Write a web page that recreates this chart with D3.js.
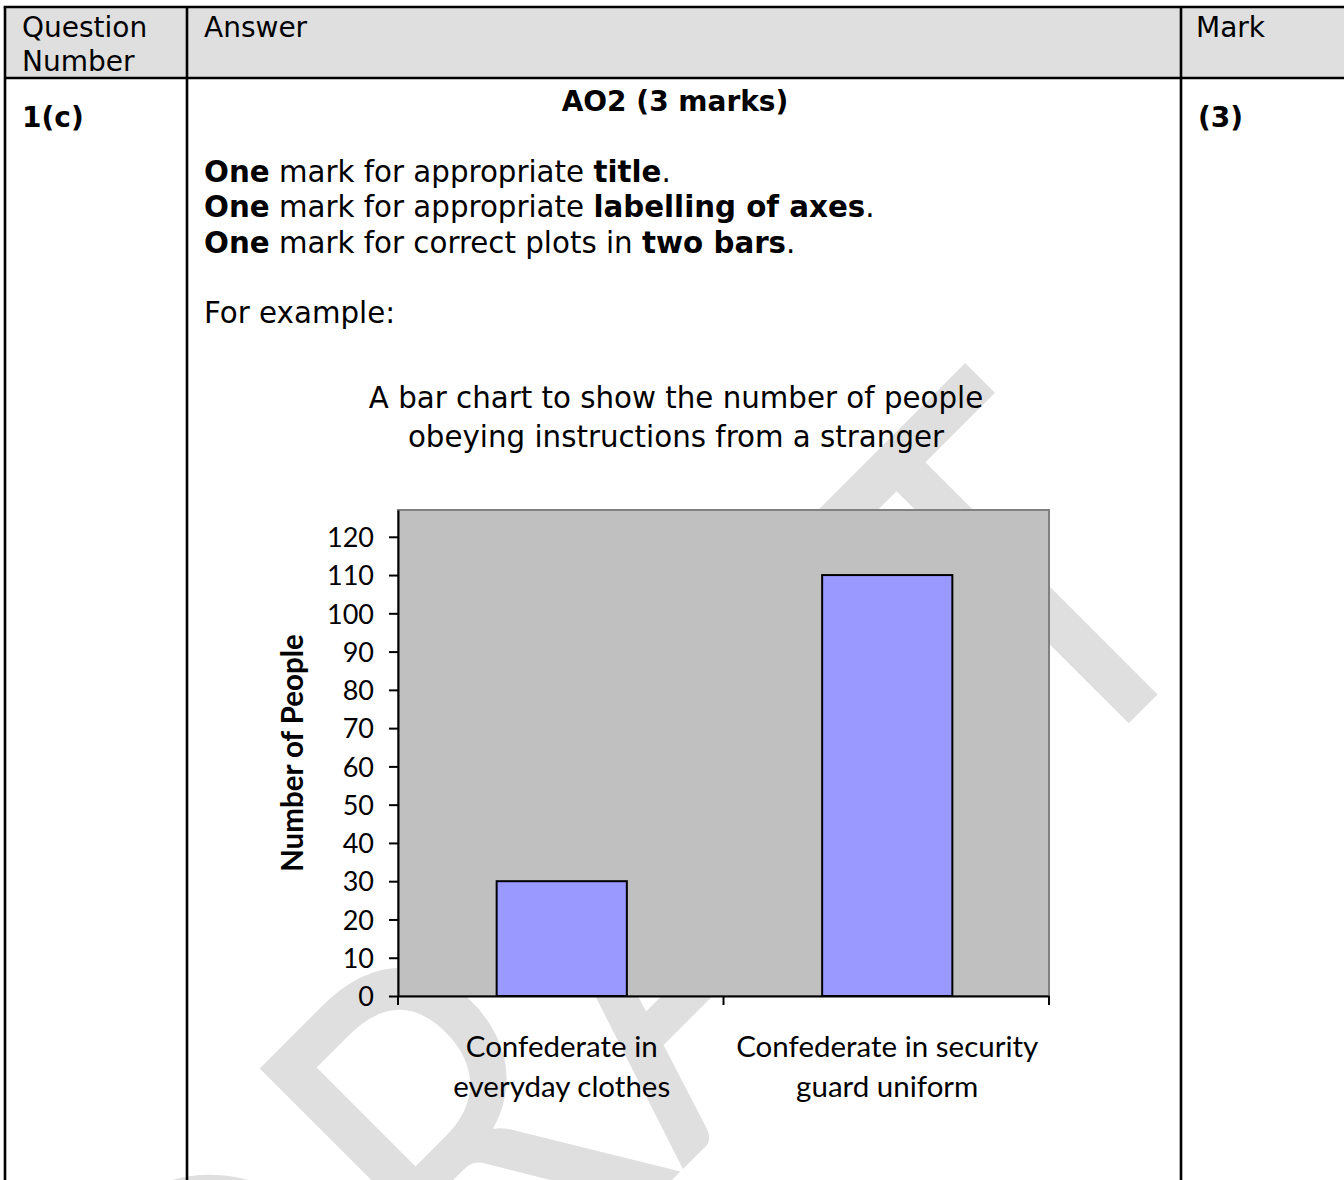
<!DOCTYPE html>
<html>
<head>
<meta charset="utf-8">
<script src="https://cdn.jsdelivr.net/npm/d3@7"></script>
<style>
  html, body { margin: 0; padding: 0; background: #ffffff; }
  svg { display: block; }
</style>
</head>
<body>
<script>
// ---------- data ----------
const categories = ["Confederate in everyday clothes", "Confederate in security guard uniform"];
const categoryLines = [["Confederate in", "everyday clothes"], ["Confederate in security", "guard uniform"]];
const values = [30, 110];
const yTicks = [0, 10, 20, 30, 40, 50, 60, 70, 80, 90, 100, 110, 120];
const yPlotMax = 127;
const chartTitle = ["A bar chart to show the number of people", "obeying instructions from a stranger"];
const yAxisTitle = "Number of People";
const headerCells = [["Question", "Number"], ["Answer"], ["Mark"]];
const questionNumber = "1(c)";
const markValue = "(3)";
const aoHeading = "AO2 (3 marks)";
const bodyLines = [
  [["One", true], [" mark for appropriate ", false], ["title", true], [".", false]],
  [["One", true], [" mark for appropriate ", false], ["labelling of axes", true], [".", false]],
  [["One", true], [" mark for correct plots in ", false], ["two bars", true], [".", false]]
];
const exampleLine = "For example:";
const watermarkText = "DRAFT";

// ---------- page ----------
const W = 1344, H = 1180;
const svg = d3.select("body").append("svg").attr("width", W).attr("height", H);
svg.append("rect").attr("width", W).attr("height", H).attr("fill", "#ffffff");

const docFont = "'DejaVu Sans', Verdana, sans-serif";
const chartFont = "Lato, Carlito, Calibri, sans-serif";

// watermark (behind everything) - T stem bottom centre anchored
const wm = svg.append("g");
const wt = wm.append("text")
  .attr("font-family", "Lato, Carlito, Calibri, sans-serif")
  .attr("font-size", 517)
  .attr("fill", "#dfdfdf")
  .text(watermarkText);
let pre = 0, tw = 0;
try {
  pre = wt.node().getSubStringLength(0, watermarkText.length - 1);
  tw = wt.node().getSubStringLength(watermarkText.length - 1, 1);
} catch (e) { pre = 1300; tw = 280; }
wm.attr("transform", `translate(1143,709) rotate(-45) scale(0.82,1) translate(${-(pre + tw / 2)},0)`);

// table header background
const tLeft = 5, tTop = 7, hdrBottom = 78, col1 = 187, col2 = 1181;
svg.append("rect").attr("x", tLeft).attr("y", tTop).attr("width", W - tLeft).attr("height", hdrBottom - tTop)
  .attr("fill", "#dfdfdf");

// header text
const hdrX = [22, 204, 1196];
headerCells.forEach((lines, i) => {
  lines.forEach((ln, j) => {
    svg.append("text").attr("x", hdrX[i]).attr("y", 36.5 + j * 34)
      .attr("font-family", docFont).attr("font-size", 28).attr("fill", "#000").text(ln);
  });
});

svg.append("text").attr("x", 22).attr("y", 127).attr("font-family", docFont).attr("font-size", 28)
  .attr("font-weight", "bold").text(questionNumber);
svg.append("text").attr("x", 1198).attr("y", 127).attr("font-family", docFont).attr("font-size", 28)
  .attr("font-weight", "bold").text(markValue);
svg.append("text").attr("x", 675).attr("y", 111).attr("text-anchor", "middle").attr("font-family", docFont)
  .attr("font-size", 28).attr("font-weight", "bold").text(aoHeading);

bodyLines.forEach((parts, i) => {
  const t = svg.append("text").attr("x", 204).attr("y", 181.5 + i * 35.5)
    .attr("font-family", docFont).attr("font-size", 29.3).attr("fill", "#000");
  parts.forEach(p => {
    t.append("tspan").attr("font-weight", p[1] ? "bold" : "normal").text(p[0]);
  });
});
svg.append("text").attr("x", 204).attr("y", 323).attr("font-family", docFont).attr("font-size", 29.3).text(exampleLine);

// chart title
chartTitle.forEach((ln, i) => {
  svg.append("text").attr("x", 676).attr("y", 408 + i * 39).attr("text-anchor", "middle")
    .attr("font-family", docFont).attr("font-size", 29.3).attr("fill", "#000").text(ln);
});

// ---------- chart ----------
const plot = { left: 398, right: 1049, top: 510, bottom: 996 };
const x = d3.scaleBand().domain(categories).range([plot.left, plot.right]).padding(0);
const y = d3.scaleLinear().domain([0, yPlotMax]).range([plot.bottom, plot.top]);

const g = svg.append("g");
g.append("rect").attr("x", plot.left).attr("y", y(yPlotMax)).attr("width", plot.right - plot.left)
  .attr("height", y(0) - y(yPlotMax)).attr("fill", "#c0c0c0").attr("stroke", "#808080").attr("stroke-width", 2);

const barW = x.bandwidth() * 0.4;
g.selectAll("rect.bar").data(values).enter().append("rect").attr("class", "bar")
  .attr("x", (d, i) => x(categories[i]) + (x.bandwidth() - barW) / 2 + 1)
  .attr("y", d => y(d))
  .attr("width", barW)
  .attr("height", d => y(0) - y(d))
  .attr("fill", "#9999ff").attr("stroke", "#000").attr("stroke-width", 2);

// y axis
const yAxis = g.append("g").attr("transform", `translate(${plot.left},0)`)
  .call(d3.axisLeft(y).tickValues(yTicks).tickSize(9).tickSizeOuter(0).tickPadding(15).tickFormat(d3.format("d")));
yAxis.select(".domain").attr("stroke", "#000").attr("stroke-width", 2);
yAxis.selectAll(".tick line").attr("stroke", "#000").attr("stroke-width", 2);
yAxis.selectAll(".tick text").attr("font-family", chartFont).attr("font-size", 27).attr("fill", "#000").attr("dy", "0.36em");

// x axis (line + ticks at category boundaries)
const xAxis = g.append("g").attr("transform", `translate(0,${plot.bottom})`)
  .call(d3.axisBottom(x).tickSize(0).tickSizeOuter(0).tickFormat(""));
xAxis.select(".domain").attr("stroke", "#000").attr("stroke-width", 2);
const boundaries = categories.map(c => x(c)).concat([x.range()[1]]);
xAxis.selectAll("line.bound").data(boundaries).enter().append("line").attr("class", "bound")
  .attr("x1", d => d).attr("x2", d => d).attr("y1", 0).attr("y2", 9)
  .attr("stroke", "#000").attr("stroke-width", 2);

// category labels
categoryLines.forEach((lines, i) => {
  lines.forEach((ln, j) => {
    g.append("text").attr("x", x(categories[i]) + x.bandwidth() / 2 + 1).attr("y", plot.bottom + 61 + j * 40)
      .attr("text-anchor", "middle").attr("font-family", chartFont).attr("font-size", 29.5).attr("fill", "#000").text(ln);
  });
});

// y axis title
g.append("text").attr("transform", `translate(303,${(plot.top + plot.bottom) / 2}) rotate(-90)`)
  .attr("text-anchor", "middle").attr("font-family", chartFont).attr("font-size", 29.5).attr("font-weight", "bold")
  .attr("fill", "#000").text(yAxisTitle);

// ---------- table borders (on top) ----------
const border = svg.append("g").attr("stroke", "#000").attr("stroke-width", 2.6);
border.append("line").attr("x1", tLeft - 1.3).attr("x2", W).attr("y1", tTop).attr("y2", tTop);
border.append("line").attr("x1", tLeft).attr("x2", W).attr("y1", hdrBottom).attr("y2", hdrBottom);
border.append("line").attr("x1", tLeft).attr("x2", tLeft).attr("y1", tTop).attr("y2", H);
border.append("line").attr("x1", col1).attr("x2", col1).attr("y1", tTop).attr("y2", H);
border.append("line").attr("x1", col2).attr("x2", col2).attr("y1", tTop).attr("y2", H);
</script>
</body>
</html>
